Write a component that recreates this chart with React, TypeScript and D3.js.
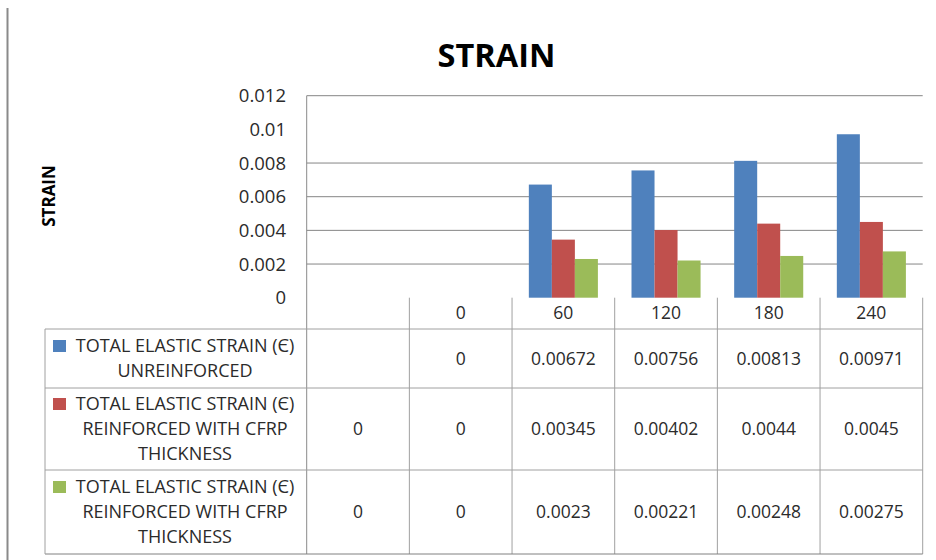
import React, { useEffect, useRef } from 'react';
import * as d3 from 'd3';

// ── Data ────────────────────────────────────────────────────────────
const categories = ['', '0', '60', '120', '180', '240'];
const unreinforced: (number | null)[] = [null, 0, 0.00672, 0.00756, 0.00813, 0.00971];
const reinforcedA: (number | null)[] = [0, 0, 0.00345, 0.00402, 0.0044, 0.0045];
const reinforcedB: (number | null)[] = [0, 0, 0.0023, 0.00221, 0.00248, 0.00275];
const seriesLabels = [
  ['TOTAL ELASTIC STRAIN (Є)', 'UNREINFORCED'],
  ['TOTAL ELASTIC STRAIN (Є)', 'REINFORCED WITH CFRP', 'THICKNESS'],
  ['TOTAL ELASTIC STRAIN (Є)', 'REINFORCED WITH CFRP', 'THICKNESS'],
];
const yTicks = [0, 0.002, 0.004, 0.006, 0.008, 0.01, 0.012];
// the reference shows no gridline at 0.01
const gridTicks = [0.002, 0.004, 0.006, 0.008, 0.012];

const COLORS = ['#4F81BD', '#C0504D', '#9BBB59'];
const FONT = '"Open Sans", "DejaVu Sans", sans-serif';
const TEXT = '#2b2b2b';

export default function App() {
  const svgRef = useRef<SVGSVGElement>(null);

  useEffect(() => {
    if (!svgRef.current) return;
    const svg = d3.select(svgRef.current);
    svg.selectAll('*').remove();

    const W = 936, H = 560;
    const plot = { left: 306.7, right: 922.7, top: 95.7, bottom: 297.7 };
    const tableLeft = 45;
    const rowTops = [329, 388, 470];
    const rowBottoms = [388, 470, 554];
    const lineH = 25;

    svg.append('rect').attr('width', W).attr('height', H).attr('fill', '#fff');

    const series = [unreinforced, reinforcedA, reinforcedB];

    const x = d3.scaleBand<number>()
      .domain(d3.range(categories.length))
      .range([plot.left, plot.right])
      .paddingInner(0);
    const xs = d3.scaleBand<number>()
      .domain(d3.range(series.length))
      .range([0, x.bandwidth()])
      .paddingInner(0)
      .paddingOuter(0.73);
    const y = d3.scaleLinear().domain([0, 0.012]).range([plot.bottom, plot.top]);

    // outer frame line on the left
    svg.append('line')
      .attr('x1', 7.5).attr('x2', 7.5).attr('y1', 8).attr('y2', 560)
      .attr('stroke', '#8a8a8a').attr('stroke-width', 2);

    // title
    svg.append('text')
      .attr('x', 496.5).attr('y', 67)
      .attr('text-anchor', 'middle')
      .attr('font-family', FONT).attr('font-weight', 700).attr('font-size', 32.5)
      .attr('fill', '#000')
      .text('STRAIN');

    // y title
    svg.append('text')
      .attr('transform', 'translate(55,196) rotate(-90)')
      .attr('text-anchor', 'middle')
      .attr('font-family', FONT).attr('font-weight', 700).attr('font-size', 17)
      .attr('fill', '#000')
      .text('STRAIN');

    // gridlines
    svg.append('g').selectAll('line')
      .data(gridTicks)
      .enter().append('line')
      .attr('x1', plot.left).attr('x2', plot.right)
      .attr('y1', d => y(d)).attr('y2', d => y(d))
      .attr('stroke', '#868686').attr('stroke-width', 1);

    // y tick labels
    svg.append('g').selectAll('text')
      .data(yTicks)
      .enter().append('text')
      .attr('x', 286).attr('y', d => y(d))
      .attr('dy', '0.35em')
      .attr('text-anchor', 'end')
      .attr('font-family', FONT).attr('font-size', 18.5)
      .attr('fill', TEXT)
      .text(d => String(+d.toFixed(3)));

    // bars
    series.forEach((vals, si) => {
      svg.append('g').selectAll('rect')
        .data(vals.map((v, ci) => ({ v, ci })).filter(d => d.v != null && d.v > 0))
        .enter().append('rect')
        .attr('x', d => x(d.ci)! + xs(si)!)
        .attr('width', xs.bandwidth())
        .attr('y', d => y(d.v as number))
        .attr('height', d => plot.bottom - y(d.v as number))
        .attr('fill', COLORS[si]);
    });

    // ── data table ──
    const grid = svg.append('g').attr('stroke', '#a0a0a0').attr('stroke-width', 1);
    // y axis line continuing as table border
    grid.append('line')
      .attr('x1', plot.left).attr('x2', plot.left)
      .attr('y1', plot.top).attr('y2', rowBottoms[2])
      .attr('stroke', '#8a8a8a');
    // column dividers
    d3.range(1, categories.length + 1).forEach(i => {
      const xx = i === categories.length ? plot.right : x(i)!;
      grid.append('line')
        .attr('x1', xx).attr('x2', xx)
        .attr('y1', plot.bottom).attr('y2', rowBottoms[2]);
    });
    // horizontal row lines
    rowTops.forEach(t => {
      grid.append('line')
        .attr('x1', tableLeft).attr('x2', plot.right)
        .attr('y1', t).attr('y2', t);
    });
    grid.append('line')
      .attr('x1', tableLeft).attr('x2', plot.right)
      .attr('y1', rowBottoms[2]).attr('y2', rowBottoms[2])
      .attr('stroke', '#808080');
    grid.append('line')
      .attr('x1', tableLeft).attr('x2', tableLeft)
      .attr('y1', rowTops[0]).attr('y2', rowBottoms[2]);

    // header (category labels)
    svg.append('g').selectAll('text')
      .data(categories)
      .enter().append('text')
      .attr('x', (_, i) => x(i)! + x.bandwidth() / 2)
      .attr('y', (plot.bottom + rowTops[0]) / 2)
      .attr('dy', '0.35em')
      .attr('text-anchor', 'middle')
      .attr('font-family', FONT).attr('font-size', 17.5)
      .attr('fill', TEXT)
      .text(d => d);

    // rows
    series.forEach((vals, si) => {
      const top = rowTops[si], bot = rowBottoms[si];
      const mid = (top + bot) / 2;
      const lines = seriesLabels[si];
      const first = mid - ((lines.length - 1) * lineH) / 2;

      const row = svg.append('g');
      row.append('rect')
        .attr('x', 53).attr('y', first - 6)
        .attr('width', 13).attr('height', 12)
        .attr('fill', COLORS[si]);
      row.selectAll('text.lbl')
        .data(lines)
        .enter().append('text')
        .attr('class', 'lbl')
        .attr('x', 185)
        .attr('y', (_, li) => first + li * lineH)
        .attr('dy', '0.35em')
        .attr('text-anchor', 'middle')
        .attr('font-family', FONT).attr('font-size', 18)
        .attr('fill', TEXT)
        .text(d => d);
      row.selectAll('text.val')
        .data(vals)
        .enter().append('text')
        .attr('class', 'val')
        .attr('x', (_, i) => x(i)! + x.bandwidth() / 2)
        .attr('y', mid)
        .attr('dy', '0.35em')
        .attr('text-anchor', 'middle')
        .attr('font-family', FONT).attr('font-size', 17.5)
        .attr('fill', TEXT)
        .text(d => (d == null ? '' : String(d)));
    });
  }, []);

  return (
    <svg
      ref={svgRef}
      width={936}
      height={560}
      style={{ position: 'absolute', left: 0, top: 0, display: 'block' }}
    />
  );
}
